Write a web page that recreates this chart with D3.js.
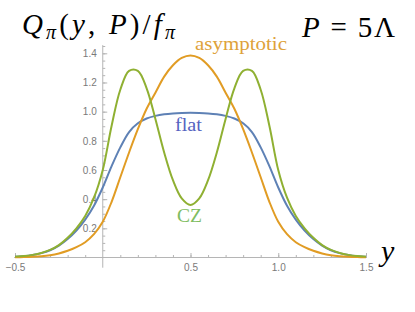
<!DOCTYPE html>
<html>
<head>
<meta charset="utf-8">
<script src="https://cdn.jsdelivr.net/npm/d3@7"></script>
<style>
  body { margin: 0; background: #fff; }
  svg { display: block; }
  .tick text { font-family: "Liberation Sans", Arial, sans-serif; font-size: 10px; fill: #7a7a7a; }
  .tick line { stroke: #b5b5b5; }
</style>
</head>
<body>
<div class="chart"></div>
<script>
// rapidity grid y (step 0.05)
const yGrid = [-0.5, -0.45, -0.4, -0.35, -0.3, -0.25, -0.2, -0.15, -0.1, -0.05,
    0, 0.05, 0.1, 0.15, 0.2, 0.25, 0.3, 0.35, 0.4, 0.45,
    0.5, 0.55, 0.6, 0.65, 0.7, 0.75, 0.8, 0.85, 0.9, 0.95,
    1, 1.05, 1.1, 1.15, 1.2, 1.25, 1.3, 1.35, 1.4, 1.45, 1.5]

const flat = [0.005, 0.009, 0.017, 0.03, 0.05, 0.082, 0.127, 0.185, 0.26, 0.355,
    0.48, 0.625, 0.755, 0.86, 0.92, 0.953, 0.971, 0.982, 0.988, 0.991,
    0.992, 0.991, 0.988, 0.982, 0.971, 0.953, 0.92, 0.86, 0.755, 0.625,
    0.48, 0.355, 0.26, 0.185, 0.127, 0.082, 0.05, 0.03, 0.017, 0.009, 0.005]

const asymptotic = [0.002, 0.003, 0.005, 0.009, 0.016, 0.028, 0.046, 0.071, 0.105, 0.16,
    0.245, 0.38, 0.55, 0.72, 0.88, 1.02, 1.13, 1.24, 1.318, 1.368,
    1.385, 1.368, 1.318, 1.24, 1.13, 1.02, 0.88, 0.72, 0.55, 0.38,
    0.245, 0.16, 0.105, 0.071, 0.046, 0.028, 0.016, 0.009, 0.005, 0.003, 0.002]

const cz = [0.006, 0.01, 0.018, 0.031, 0.052, 0.085, 0.135, 0.2, 0.285, 0.41,
    0.6, 0.9, 1.15, 1.28, 1.28, 1.16, 0.95, 0.72, 0.53, 0.405,
    0.36, 0.405, 0.53, 0.72, 0.95, 1.16, 1.28, 1.28, 1.15, 0.9,
    0.6, 0.41, 0.285, 0.2, 0.135, 0.085, 0.052, 0.031, 0.018, 0.01, 0.006]

const xMajor = [-0.5, 0.5, 1, 1.5]
const yMajor = [0.2, 0.4, 0.6, 0.8, 1.0, 1.2, 1.4]

const series = [
    { name: 'flat', values: flat, color: '#5e81b5' },
    { name: 'asymptotic', values: asymptotic, color: '#e19c24' },
    { name: 'CZ', values: cz, color: '#8fb032' }
]

const width = 415
const height = 312

const svg = d3.select('.chart')
    .append('svg')
    .attr('width', width)
    .attr('height', height)

svg.append('rect').attr('width', width).attr('height', height).attr('fill', '#fff')

// Scales.
const xScale = d3.scaleLinear().domain([-0.5, 1.5]).range([15, 366])
const yScale = d3.scaleLinear().domain([0, 1.4]).range([257.5, 53.3])

// Axis lines.
svg.append('line')
    .attr('x1', xScale(-0.505)).attr('x2', xScale(1.505))
    .attr('y1', yScale(0)).attr('y2', yScale(0))
    .attr('stroke', '#b5b5b5')

svg.append('line')
    .attr('x1', xScale(0)).attr('x2', xScale(0))
    .attr('y1', yScale(-0.07)).attr('y2', yScale(1.456))
    .attr('stroke', '#b5b5b5')

// Minor ticks.
const xMinor = d3.range(-5, 16).map(d => d / 10).filter(d => d !== 0)
const yMinor = d3.range(1, 30).map(d => d / 20)

svg.append('g')
    .attr('transform', `translate(0, ${yScale(0)})`)
    .call(d3.axisBottom(xScale).tickValues(xMinor).tickSize(-2.5).tickFormat(''))
    .call(g => g.select('.domain').remove())

svg.append('g')
    .attr('transform', `translate(${xScale(0)}, 0)`)
    .call(d3.axisLeft(yScale).tickValues(yMinor).tickSize(-2.5).tickFormat(''))
    .call(g => g.select('.domain').remove())

// Major ticks with labels.
svg.append('g')
    .attr('transform', `translate(0, ${yScale(0)})`)
    .call(d3.axisBottom(xScale).tickValues(xMajor).tickSize(-4.5).tickPadding(6).tickFormat(d3.format('.1f')))
    .call(g => g.select('.domain').remove())

svg.append('g')
    .attr('transform', `translate(${xScale(0)}, 0)`)
    .call(d3.axisLeft(yScale).tickValues(yMajor).tickSize(-4.5).tickPadding(6).tickFormat(d3.format('.1f')))
    .call(g => g.select('.domain').remove())

// Curves.
const line = d3.line()
    .x((d, i) => xScale(yGrid[i]))
    .y(d => yScale(d))
    .curve(d3.curveCatmullRom.alpha(0.5))

svg.selectAll('.curve')
    .data(series)
    .enter()
    .append('path')
    .attr('class', 'curve')
    .attr('d', d => line(d.values))
    .attr('fill', 'none')
    .attr('stroke', d => d.color)
    .attr('stroke-width', 2)

// Curve labels.
const serif = '"Liberation Serif", "Times New Roman", serif'
const labels = [
    { text: 'asymptotic', x: 195, y: 50, len: 92, color: '#dea23a' },
    { text: 'flat', x: 175, y: 131, len: 27, color: '#5563c1' },
    { text: 'CZ', x: 177, y: 222, len: 25, color: '#7fbd62' }
]
svg.selectAll('.label')
    .data(labels)
    .enter()
    .append('text')
    .attr('class', 'label')
    .attr('x', d => d.x)
    .attr('y', d => d.y)
    .attr('textLength', d => d.len)
    .attr('lengthAdjust', 'spacingAndGlyphs')
    .style('font-family', serif)
    .style('font-size', '18px')
    .style('fill', d => d.color)
    .text(d => d.text)

// Title Q_pi(y,P)/f_pi.
const title = svg.append('text')
    .attr('x', 22)
    .attr('y', 34)
    .attr('textLength', 153)
    .attr('lengthAdjust', 'spacing')
    .style('font-family', serif)
    .style('font-size', '29px')
    .style('fill', '#000')

title.append('tspan').style('font-style', 'italic').text('Q')
title.append('tspan').style('font-style', 'italic').style('font-size', '20px').attr('dy', 5).text('π')
title.append('tspan').attr('dy', -5).text('(')
title.append('tspan').style('font-style', 'italic').text('y')
title.append('tspan').text(', ')
title.append('tspan').style('font-style', 'italic').text('P')
title.append('tspan').text(')/')
title.append('tspan').style('font-style', 'italic').text('f')
title.append('tspan').style('font-style', 'italic').style('font-size', '20px').attr('dy', 5).text('π')

const pLabel = svg.append('text')
    .attr('x', 302)
    .attr('y', 37)
    .attr('textLength', 93)
    .attr('lengthAdjust', 'spacing')
    .style('font-family', serif)
    .style('font-size', '29px')
    .style('fill', '#000')
pLabel.append('tspan').style('font-style', 'italic').text('P')
pLabel.append('tspan').text(' = 5Λ')

// Axis name.
svg.append('text')
    .attr('x', 381)
    .attr('y', 261)
    .style('font-family', serif)
    .style('font-size', '30px')
    .style('font-style', 'italic')
    .style('fill', '#000')
    .text('y')
</script>
</body>
</html>
